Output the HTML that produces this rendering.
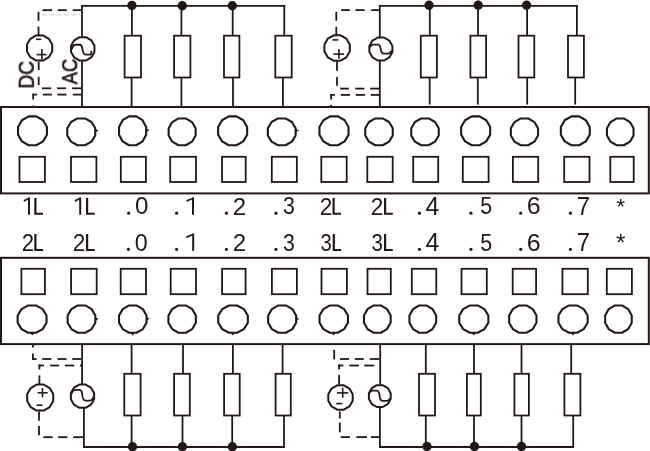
<!DOCTYPE html>
<html><head><meta charset="utf-8"><style>
html,body{margin:0;padding:0;background:#fff;}
svg{display:block}
text{filter:url(#gs)}
.c{shape-rendering:auto}
</style></head><body>
<svg width="650" height="451" viewBox="0 0 650 451">
<defs><filter id="gs" x="-10%" y="-10%" width="120%" height="120%"><feOffset dx="0" dy="0"/></filter></defs>
<rect x="0" y="0" width="650" height="451" fill="#fff"/>
<rect x="1.00" y="107.00" width="647.80" height="86.40" fill="none" stroke="#231815" stroke-width="2.0"/>
<rect x="1.00" y="257.80" width="647.80" height="86.30" fill="none" stroke="#231815" stroke-width="2.0"/>
<polygon class="c" points="46.95,134.67 43.08,141.38 36.37,145.25 28.63,145.25 21.92,141.38 18.05,134.67 18.05,126.93 21.92,120.22 28.63,116.35 36.37,116.35 43.08,120.22 46.95,126.93" fill="none" stroke="#231815" stroke-width="2.1" stroke-linejoin="round"/>
<polygon class="c" points="95.25,135.44 91.50,141.66 85.00,145.25 77.50,145.25 71.00,141.66 67.25,135.44 67.25,128.26 71.00,122.04 77.50,118.45 85.00,118.45 91.50,122.04 95.25,128.26" fill="none" stroke="#231815" stroke-width="2.1" stroke-linejoin="round"/>
<polygon class="c" points="146.15,134.67 142.52,141.38 136.23,145.25 128.97,145.25 122.68,141.38 119.05,134.67 119.05,126.93 122.68,120.22 128.97,116.35 136.23,116.35 142.52,120.22 146.15,126.93" fill="none" stroke="#231815" stroke-width="2.1" stroke-linejoin="round"/>
<polygon class="c" points="195.65,135.44 192.03,141.66 185.77,145.25 178.53,145.25 172.27,141.66 168.65,135.44 168.65,128.26 172.27,122.04 178.53,118.45 185.77,118.45 192.03,122.04 195.65,128.26" fill="none" stroke="#231815" stroke-width="2.1" stroke-linejoin="round"/>
<polygon class="c" points="247.15,134.67 243.26,141.38 236.54,145.25 228.76,145.25 222.04,141.38 218.15,134.67 218.15,126.93 222.04,120.22 228.76,116.35 236.54,116.35 243.26,120.22 247.15,126.93" fill="none" stroke="#231815" stroke-width="2.1" stroke-linejoin="round"/>
<polygon class="c" points="295.65,135.44 291.93,141.66 285.47,145.25 278.03,145.25 271.57,141.66 267.85,135.44 267.85,128.26 271.57,122.04 278.03,118.45 285.47,118.45 291.93,122.04 295.65,128.26" fill="none" stroke="#231815" stroke-width="2.1" stroke-linejoin="round"/>
<polygon class="c" points="348.55,134.67 344.65,141.38 337.90,145.25 330.10,145.25 323.35,141.38 319.45,134.67 319.45,126.93 323.35,120.22 330.10,116.35 337.90,116.35 344.65,120.22 348.55,126.93" fill="none" stroke="#231815" stroke-width="2.1" stroke-linejoin="round"/>
<polygon class="c" points="392.75,135.44 389.07,141.66 382.68,145.25 375.32,145.25 368.93,141.66 365.25,135.44 365.25,128.26 368.93,122.04 375.32,118.45 382.68,118.45 389.07,122.04 392.75,128.26" fill="none" stroke="#231815" stroke-width="2.1" stroke-linejoin="round"/>
<polygon class="c" points="438.75,135.44 435.07,141.66 428.68,145.25 421.32,145.25 414.93,141.66 411.25,135.44 411.25,128.26 414.93,122.04 421.32,118.45 428.68,118.45 435.07,122.04 438.75,128.26" fill="none" stroke="#231815" stroke-width="2.1" stroke-linejoin="round"/>
<polygon class="c" points="490.15,134.67 486.26,141.38 479.54,145.25 471.76,145.25 465.04,141.38 461.15,134.67 461.15,126.93 465.04,120.22 471.76,116.35 479.54,116.35 486.26,120.22 490.15,126.93" fill="none" stroke="#231815" stroke-width="2.1" stroke-linejoin="round"/>
<polygon class="c" points="538.05,135.44 534.41,141.66 528.09,145.25 520.81,145.25 514.49,141.66 510.85,135.44 510.85,128.26 514.49,122.04 520.81,118.45 528.09,118.45 534.41,122.04 538.05,128.26" fill="none" stroke="#231815" stroke-width="2.1" stroke-linejoin="round"/>
<polygon class="c" points="589.75,134.67 585.88,141.38 579.17,145.25 571.43,145.25 564.72,141.38 560.85,134.67 560.85,126.93 564.72,120.22 571.43,116.35 579.17,116.35 585.88,120.22 589.75,126.93" fill="none" stroke="#231815" stroke-width="2.1" stroke-linejoin="round"/>
<polygon class="c" points="633.55,135.44 629.99,141.66 623.81,145.25 616.69,145.25 610.51,141.66 606.95,135.44 606.95,128.26 610.51,122.04 616.69,118.45 623.81,118.45 629.99,122.04 633.55,128.26" fill="none" stroke="#231815" stroke-width="2.1" stroke-linejoin="round"/>
<path d="M95.50,129.30 L98.70,130.20 L95.50,132.60 Z" fill="#231815"/>
<path d="M146.40,128.90 L149.60,129.80 L146.40,132.20 Z" fill="#231815"/>
<path d="M295.90,129.30 L299.10,130.20 L295.90,132.60 Z" fill="#231815"/>
<rect x="19.50" y="156.80" width="25.40" height="25.20" fill="none" stroke="#231815" stroke-width="1.8"/>
<rect x="71.00" y="156.80" width="25.40" height="25.20" fill="none" stroke="#231815" stroke-width="1.8"/>
<rect x="120.80" y="156.80" width="25.10" height="25.20" fill="none" stroke="#231815" stroke-width="1.8"/>
<rect x="170.20" y="156.80" width="25.80" height="25.20" fill="none" stroke="#231815" stroke-width="1.8"/>
<rect x="222.00" y="156.80" width="23.70" height="25.20" fill="none" stroke="#231815" stroke-width="1.8"/>
<rect x="271.80" y="156.80" width="25.05" height="25.20" fill="none" stroke="#231815" stroke-width="1.8"/>
<rect x="321.30" y="156.80" width="25.40" height="25.20" fill="none" stroke="#231815" stroke-width="1.8"/>
<rect x="367.30" y="156.80" width="25.40" height="25.20" fill="none" stroke="#231815" stroke-width="1.8"/>
<rect x="413.20" y="156.80" width="25.00" height="25.20" fill="none" stroke="#231815" stroke-width="1.8"/>
<rect x="462.80" y="156.80" width="25.80" height="25.20" fill="none" stroke="#231815" stroke-width="1.8"/>
<rect x="512.90" y="156.80" width="25.30" height="25.20" fill="none" stroke="#231815" stroke-width="1.8"/>
<rect x="564.20" y="156.80" width="25.30" height="25.20" fill="none" stroke="#231815" stroke-width="1.8"/>
<rect x="610.30" y="156.80" width="23.40" height="25.20" fill="none" stroke="#231815" stroke-width="1.8"/>
<rect x="21.40" y="268.80" width="23.50" height="25.40" fill="none" stroke="#231815" stroke-width="1.8"/>
<rect x="71.10" y="268.80" width="25.60" height="25.40" fill="none" stroke="#231815" stroke-width="1.8"/>
<rect x="120.70" y="268.80" width="25.30" height="25.40" fill="none" stroke="#231815" stroke-width="1.8"/>
<rect x="170.70" y="268.80" width="25.30" height="25.40" fill="none" stroke="#231815" stroke-width="1.8"/>
<rect x="222.10" y="268.80" width="23.50" height="25.40" fill="none" stroke="#231815" stroke-width="1.8"/>
<rect x="271.90" y="268.80" width="25.00" height="25.40" fill="none" stroke="#231815" stroke-width="1.8"/>
<rect x="321.50" y="268.80" width="25.40" height="25.40" fill="none" stroke="#231815" stroke-width="1.8"/>
<rect x="367.50" y="268.80" width="23.30" height="25.40" fill="none" stroke="#231815" stroke-width="1.8"/>
<rect x="411.80" y="268.80" width="24.50" height="25.40" fill="none" stroke="#231815" stroke-width="1.8"/>
<rect x="461.50" y="268.80" width="25.30" height="25.40" fill="none" stroke="#231815" stroke-width="1.8"/>
<rect x="512.70" y="268.80" width="23.40" height="25.40" fill="none" stroke="#231815" stroke-width="1.8"/>
<rect x="562.40" y="268.80" width="25.40" height="25.40" fill="none" stroke="#231815" stroke-width="1.8"/>
<rect x="606.80" y="268.80" width="25.10" height="25.40" fill="none" stroke="#231815" stroke-width="1.8"/>
<polygon class="c" points="46.55,322.76 42.68,329.09 35.97,332.75 28.23,332.75 21.52,329.09 17.65,322.76 17.65,315.44 21.52,309.11 28.23,305.45 35.97,305.45 42.68,309.11 46.55,315.44" fill="none" stroke="#231815" stroke-width="2.1" stroke-linejoin="round"/>
<polygon class="c" points="95.35,322.76 91.64,329.09 85.21,332.75 77.79,332.75 71.36,329.09 67.65,322.76 67.65,315.44 71.36,309.11 77.79,305.45 85.21,305.45 91.64,309.11 95.35,315.44" fill="none" stroke="#231815" stroke-width="2.1" stroke-linejoin="round"/>
<polygon class="c" points="146.55,322.76 142.87,329.09 136.48,332.75 129.12,332.75 122.73,329.09 119.05,322.76 119.05,315.44 122.73,309.11 129.12,305.45 136.48,305.45 142.87,309.11 146.55,315.44" fill="none" stroke="#231815" stroke-width="2.1" stroke-linejoin="round"/>
<polygon class="c" points="195.85,322.76 192.18,329.09 185.82,332.75 178.48,332.75 172.12,329.09 168.45,322.76 168.45,315.44 172.12,309.11 178.48,305.45 185.82,305.45 192.18,309.11 195.85,315.44" fill="none" stroke="#231815" stroke-width="2.1" stroke-linejoin="round"/>
<polygon class="c" points="247.85,322.76 243.88,329.09 237.02,332.75 229.08,332.75 222.22,329.09 218.25,322.76 218.25,315.44 222.22,309.11 229.08,305.45 237.02,305.45 243.88,309.11 247.85,315.44" fill="none" stroke="#231815" stroke-width="2.1" stroke-linejoin="round"/>
<polygon class="c" points="296.15,322.76 292.40,329.09 285.90,332.75 278.40,332.75 271.90,329.09 268.15,322.76 268.15,315.44 271.90,309.11 278.40,305.45 285.90,305.45 292.40,309.11 296.15,315.44" fill="none" stroke="#231815" stroke-width="2.1" stroke-linejoin="round"/>
<polygon class="c" points="347.95,322.76 344.15,329.09 337.55,332.75 329.95,332.75 323.35,329.09 319.55,322.76 319.55,315.44 323.35,309.11 329.95,305.45 337.55,305.45 344.15,309.11 347.95,315.44" fill="none" stroke="#231815" stroke-width="2.1" stroke-linejoin="round"/>
<polygon class="c" points="390.65,322.76 387.07,329.09 380.88,332.75 373.72,332.75 367.53,329.09 363.95,322.76 363.95,315.44 367.53,309.11 373.72,305.45 380.88,305.45 387.07,309.11 390.65,315.44" fill="none" stroke="#231815" stroke-width="2.1" stroke-linejoin="round"/>
<polygon class="c" points="436.15,322.76 432.57,329.09 426.38,332.75 419.22,332.75 413.03,329.09 409.45,322.76 409.45,315.44 413.03,309.11 419.22,305.45 426.38,305.45 432.57,309.11 436.15,315.44" fill="none" stroke="#231815" stroke-width="2.1" stroke-linejoin="round"/>
<polygon class="c" points="488.35,322.76 484.45,329.09 477.70,332.75 469.90,332.75 463.15,329.09 459.25,322.76 459.25,315.44 463.15,309.11 469.90,305.45 477.70,305.45 484.45,309.11 488.35,315.44" fill="none" stroke="#231815" stroke-width="2.1" stroke-linejoin="round"/>
<polygon class="c" points="536.45,322.76 532.79,329.09 526.46,332.75 519.14,332.75 512.81,329.09 509.15,322.76 509.15,315.44 512.81,309.11 519.14,305.45 526.46,305.45 532.79,309.11 536.45,315.44" fill="none" stroke="#231815" stroke-width="2.1" stroke-linejoin="round"/>
<polygon class="c" points="587.65,322.76 583.74,329.09 576.96,332.75 569.14,332.75 562.36,329.09 558.45,322.76 558.45,315.44 562.36,309.11 569.14,305.45 576.96,305.45 583.74,309.11 587.65,315.44" fill="none" stroke="#231815" stroke-width="2.1" stroke-linejoin="round"/>
<polygon class="c" points="631.75,322.76 628.19,329.09 622.01,332.75 614.89,332.75 608.71,329.09 605.15,322.76 605.15,315.44 608.71,309.11 614.89,305.45 622.01,305.45 628.19,309.11 631.75,315.44" fill="none" stroke="#231815" stroke-width="2.1" stroke-linejoin="round"/>
<path d="M95.60,317.70 L98.60,318.80 L95.60,320.80 Z" fill="#231815"/>
<path d="M146.80,317.50 L149.80,318.60 L146.80,320.60 Z" fill="#231815"/>
<path d="M296.40,317.70 L299.40,318.80 L296.40,320.80 Z" fill="#231815"/>
<path d="M30.10,332.80 L32.30,335.60 L34.50,332.80 Z" fill="#231815"/>
<path d="M130.40,332.80 L132.60,335.60 L134.80,332.80 Z" fill="#231815"/>
<path d="M230.60,332.80 L232.80,335.60 L235.00,332.80 Z" fill="#231815"/>
<path d="M331.20,332.80 L333.40,335.60 L335.60,332.80 Z" fill="#231815"/>
<path d="M471.60,332.80 L473.80,335.60 L476.00,332.80 Z" fill="#231815"/>
<path d="M570.80,332.80 L573.00,335.60 L575.20,332.80 Z" fill="#231815"/>
<path d="M28.00,197.40 L30.00,197.40 L30.00,214.70 L28.00,214.70 Z" fill="#231815"/>
<path d="M29.00,197.40 L30.00,198.60 L23.95,202.00 L23.65,200.10 Z" fill="#231815"/>
<path d="M34.30,197.90 L36.50,197.90 L36.50,212.70 L43.00,212.70 L43.00,214.70 L34.30,214.70 Z" fill="#231815"/>
<path d="M79.20,197.40 L81.20,197.40 L81.20,214.70 L79.20,214.70 Z" fill="#231815"/>
<path d="M80.20,197.40 L81.20,198.60 L75.00,202.00 L74.70,200.10 Z" fill="#231815"/>
<path d="M86.00,197.90 L88.20,197.90 L88.20,212.70 L94.80,212.70 L94.80,214.70 L86.00,214.70 Z" fill="#231815"/>
<circle cx="128.70" cy="213.15" r="1.6" fill="#231815"/>
<text transform="matrix(0.24167,0,0,0.24366,135.033,214.456)" font-family="Liberation Sans" font-size="100" fill="#231815">0</text>
<circle cx="176.65" cy="213.15" r="1.6" fill="#231815"/>
<path d="M192.00,197.40 L194.00,197.40 L194.00,214.70 L192.00,214.70 Z" fill="#231815"/>
<path d="M193.00,197.40 L194.00,198.60 L186.70,202.00 L186.40,200.10 Z" fill="#231815"/>
<circle cx="226.45" cy="213.15" r="1.6" fill="#231815"/>
<text transform="matrix(0.24130,0,0,0.24714,232.793,214.700)" font-family="Liberation Sans" font-size="100" fill="#231815">2</text>
<circle cx="275.95" cy="213.15" r="1.6" fill="#231815"/>
<text transform="matrix(0.21277,0,0,0.24366,283.049,214.456)" font-family="Liberation Sans" font-size="100" fill="#231815">3</text>
<text transform="matrix(0.22609,0,0,0.24714,319.770,214.700)" font-family="Liberation Sans" font-size="100" fill="#231815">2</text>
<path d="M332.50,197.90 L334.70,197.90 L334.70,212.70 L341.00,212.70 L341.00,214.70 L332.50,214.70 Z" fill="#231815"/>
<text transform="matrix(0.22609,0,0,0.24714,370.770,214.700)" font-family="Liberation Sans" font-size="100" fill="#231815">2</text>
<path d="M384.00,197.90 L386.20,197.90 L386.20,212.70 L392.80,212.70 L392.80,214.70 L384.00,214.70 Z" fill="#231815"/>
<circle cx="419.45" cy="213.15" r="1.6" fill="#231815"/>
<text transform="matrix(0.24902,0,0,0.25441,425.502,214.954)" font-family="Liberation Sans" font-size="100" fill="#231815">4</text>
<circle cx="470.95" cy="213.15" r="1.6" fill="#231815"/>
<text transform="matrix(0.21489,0,0,0.24714,480.140,214.453)" font-family="Liberation Sans" font-size="100" fill="#231815">5</text>
<circle cx="520.75" cy="213.15" r="1.6" fill="#231815"/>
<text transform="matrix(0.25000,0,0,0.24366,526.750,214.456)" font-family="Liberation Sans" font-size="100" fill="#231815">6</text>
<circle cx="570.45" cy="213.15" r="1.6" fill="#231815"/>
<text transform="matrix(0.23913,0,0,0.25441,576.704,214.954)" font-family="Liberation Sans" font-size="100" fill="#231815">7</text>
<text transform="matrix(0.22174,0,0,0.24714,21.691,250.900)" font-family="Liberation Sans" font-size="100" fill="#231815">2</text>
<path d="M34.30,234.10 L36.50,234.10 L36.50,248.90 L43.10,248.90 L43.10,250.90 L34.30,250.90 Z" fill="#231815"/>
<text transform="matrix(0.22609,0,0,0.24714,72.770,250.900)" font-family="Liberation Sans" font-size="100" fill="#231815">2</text>
<path d="M86.00,234.10 L88.20,234.10 L88.20,248.90 L94.80,248.90 L94.80,250.90 L86.00,250.90 Z" fill="#231815"/>
<circle cx="128.45" cy="249.35" r="1.6" fill="#231815"/>
<text transform="matrix(0.23333,0,0,0.24366,134.767,250.656)" font-family="Liberation Sans" font-size="100" fill="#231815">0</text>
<circle cx="176.60" cy="249.35" r="1.6" fill="#231815"/>
<path d="M192.20,233.60 L194.20,233.60 L194.20,250.90 L192.20,250.90 Z" fill="#231815"/>
<path d="M193.20,233.60 L194.20,234.80 L186.50,238.20 L186.20,236.30 Z" fill="#231815"/>
<circle cx="226.45" cy="249.35" r="1.6" fill="#231815"/>
<text transform="matrix(0.24130,0,0,0.24714,232.793,250.900)" font-family="Liberation Sans" font-size="100" fill="#231815">2</text>
<circle cx="275.95" cy="249.35" r="1.6" fill="#231815"/>
<text transform="matrix(0.21277,0,0,0.24366,283.049,250.656)" font-family="Liberation Sans" font-size="100" fill="#231815">3</text>
<text transform="matrix(0.20213,0,0,0.24366,320.391,250.656)" font-family="Liberation Sans" font-size="100" fill="#231815">3</text>
<path d="M332.70,234.10 L334.90,234.10 L334.90,248.90 L341.10,248.90 L341.10,250.90 L332.70,250.90 Z" fill="#231815"/>
<text transform="matrix(0.20426,0,0,0.24366,371.383,250.656)" font-family="Liberation Sans" font-size="100" fill="#231815">3</text>
<path d="M384.00,234.10 L386.20,234.10 L386.20,248.90 L392.80,248.90 L392.80,250.90 L384.00,250.90 Z" fill="#231815"/>
<circle cx="419.45" cy="249.35" r="1.6" fill="#231815"/>
<text transform="matrix(0.24902,0,0,0.25441,425.502,251.154)" font-family="Liberation Sans" font-size="100" fill="#231815">4</text>
<circle cx="470.95" cy="249.35" r="1.6" fill="#231815"/>
<text transform="matrix(0.21489,0,0,0.24714,480.140,250.653)" font-family="Liberation Sans" font-size="100" fill="#231815">5</text>
<circle cx="520.75" cy="249.35" r="1.6" fill="#231815"/>
<text transform="matrix(0.25000,0,0,0.24366,526.750,250.656)" font-family="Liberation Sans" font-size="100" fill="#231815">6</text>
<circle cx="570.45" cy="249.35" r="1.6" fill="#231815"/>
<text transform="matrix(0.23913,0,0,0.25441,576.704,251.154)" font-family="Liberation Sans" font-size="100" fill="#231815">7</text>
<text transform="matrix(0.22857,0,0,0.22857,616.143,213.771)" font-family="Liberation Sans" font-size="100" fill="#231815">*</text>
<text transform="matrix(0.24286,0,0,0.23429,616.014,251.166)" font-family="Liberation Sans" font-size="100" fill="#231815">*</text>
<text transform="matrix(0,-0.19091,0.22676,0,33.773,88.527)" font-family="Liberation Sans" font-size="100" fill="#231815" stroke="#231815" stroke-width="3.2">DC</text>
<text transform="matrix(0,-0.18296,0.21972,0,77.180,84.300)" font-family="Liberation Sans" font-size="100" fill="#231815" stroke="#231815" stroke-width="3.2">AC</text>
<line x1="81.10" y1="5.85" x2="285.20" y2="5.85" stroke="#231815" stroke-width="1.8"/>
<line x1="82.00" y1="5.00" x2="82.00" y2="36.65" stroke="#231815" stroke-width="1.8"/>
<line x1="82.00" y1="61.05" x2="82.00" y2="107.00" stroke="#231815" stroke-width="1.8"/>
<polygon class="c" points="94.45,51.99 91.31,57.41 85.89,60.55 79.61,60.55 74.19,57.41 71.05,51.99 71.05,45.71 74.19,40.29 79.61,37.15 85.89,37.15 91.31,40.29 94.45,45.71" fill="none" stroke="#231815" stroke-width="2.0" stroke-linejoin="round"/>
<path d="M71.85,49.35 C72.45,46.25 73.75,44.75 75.75,44.75 L79.75,44.75 C81.95,44.75 82.15,46.75 82.55,49.70 C82.95,52.65 83.35,54.65 85.75,54.65 L89.75,54.65 C91.75,54.65 91.15,53.15 91.55,50.75" fill="none" stroke="#231815" stroke-width="1.8"/>
<line x1="131.90" y1="5.85" x2="131.90" y2="35.50" stroke="#231815" stroke-width="1.8"/>
<line x1="131.60" y1="77.50" x2="131.60" y2="107.00" stroke="#231815" stroke-width="1.8"/>
<rect x="124.60" y="35.70" width="16.40" height="41.80" fill="none" stroke="#231815" stroke-width="1.8"/>
<line x1="181.40" y1="5.85" x2="181.40" y2="35.50" stroke="#231815" stroke-width="1.8"/>
<line x1="181.40" y1="77.50" x2="181.40" y2="107.00" stroke="#231815" stroke-width="1.8"/>
<rect x="174.10" y="35.70" width="16.30" height="41.80" fill="none" stroke="#231815" stroke-width="1.8"/>
<line x1="232.70" y1="5.85" x2="232.70" y2="35.50" stroke="#231815" stroke-width="1.8"/>
<line x1="233.00" y1="77.50" x2="233.00" y2="107.00" stroke="#231815" stroke-width="1.8"/>
<rect x="224.00" y="35.70" width="15.40" height="41.80" fill="none" stroke="#231815" stroke-width="1.8"/>
<line x1="284.30" y1="5.85" x2="284.30" y2="35.50" stroke="#231815" stroke-width="1.8"/>
<line x1="282.90" y1="77.50" x2="282.90" y2="107.00" stroke="#231815" stroke-width="1.8"/>
<rect x="275.30" y="35.70" width="16.40" height="41.80" fill="none" stroke="#231815" stroke-width="1.8"/>
<circle class="c" cx="131.90" cy="5.50" r="4.70" fill="#231815"/>
<circle class="c" cx="182.30" cy="5.80" r="4.70" fill="#231815"/>
<circle class="c" cx="232.30" cy="5.80" r="4.70" fill="#231815"/>
<polygon class="c" points="52.20,51.38 48.82,57.22 42.98,60.60 36.22,60.60 30.38,57.22 27.00,51.38 27.00,44.62 30.38,38.78 36.22,35.40 42.98,35.40 48.82,38.78 52.20,44.62" fill="none" stroke="#231815" stroke-width="2.0" stroke-linejoin="round"/>
<line x1="42.50" y1="10.15" x2="52.00" y2="10.15" stroke="#231815" stroke-width="1.8"/>
<line x1="57.70" y1="10.15" x2="66.90" y2="10.15" stroke="#231815" stroke-width="1.8"/>
<line x1="72.70" y1="10.15" x2="81.20" y2="10.15" stroke="#231815" stroke-width="1.8"/>
<line x1="38.50" y1="11.80" x2="38.50" y2="20.80" stroke="#231815" stroke-width="1.8"/>
<line x1="38.50" y1="26.50" x2="38.50" y2="35.00" stroke="#231815" stroke-width="1.8"/>
<line x1="41.50" y1="14.80" x2="47.00" y2="14.80" stroke="#e3e3e3" stroke-width="1.8"/>
<line x1="48.90" y1="14.80" x2="54.50" y2="14.80" stroke="#e3e3e3" stroke-width="1.8"/>
<line x1="56.30" y1="14.80" x2="61.90" y2="14.80" stroke="#e3e3e3" stroke-width="1.8"/>
<line x1="63.70" y1="14.80" x2="69.20" y2="14.80" stroke="#e3e3e3" stroke-width="1.8"/>
<line x1="71.10" y1="14.80" x2="76.60" y2="14.80" stroke="#e3e3e3" stroke-width="1.8"/>
<line x1="78.50" y1="14.80" x2="80.30" y2="14.80" stroke="#e3e3e3" stroke-width="1.8"/>
<line x1="38.70" y1="61.80" x2="38.70" y2="70.00" stroke="#231815" stroke-width="1.8"/>
<line x1="38.70" y1="76.80" x2="38.70" y2="85.00" stroke="#231815" stroke-width="1.8"/>
<line x1="42.00" y1="88.30" x2="51.20" y2="88.30" stroke="#231815" stroke-width="1.8"/>
<line x1="57.00" y1="88.30" x2="66.00" y2="88.30" stroke="#231815" stroke-width="1.8"/>
<line x1="72.00" y1="88.30" x2="81.20" y2="88.30" stroke="#231815" stroke-width="1.8"/>
<line x1="32.50" y1="94.60" x2="37.00" y2="94.60" stroke="#231815" stroke-width="1.8"/>
<line x1="42.80" y1="94.60" x2="51.80" y2="94.60" stroke="#231815" stroke-width="1.8"/>
<line x1="57.50" y1="94.60" x2="66.50" y2="94.60" stroke="#231815" stroke-width="1.8"/>
<line x1="72.80" y1="94.60" x2="81.20" y2="94.60" stroke="#231815" stroke-width="1.8"/>
<line x1="33.20" y1="93.80" x2="33.20" y2="99.50" stroke="#231815" stroke-width="1.8"/>
<line x1="33.20" y1="105.50" x2="33.20" y2="107.00" stroke="#231815" stroke-width="1.8"/>
<line x1="378.90" y1="5.85" x2="577.80" y2="5.85" stroke="#231815" stroke-width="1.8"/>
<line x1="379.80" y1="5.00" x2="379.80" y2="37.00" stroke="#231815" stroke-width="1.8"/>
<line x1="379.80" y1="61.00" x2="379.80" y2="107.00" stroke="#231815" stroke-width="1.8"/>
<polygon class="c" points="392.40,52.08 389.32,57.42 383.98,60.50 377.82,60.50 372.48,57.42 369.40,52.08 369.40,45.92 372.48,40.58 377.82,37.50 383.98,37.50 389.32,40.58 392.40,45.92" fill="none" stroke="#231815" stroke-width="2.0" stroke-linejoin="round"/>
<path d="M369.70,47.50 C370.30,46.10 371.90,44.60 373.90,44.60 L377.90,44.60 C380.10,44.60 380.30,46.60 380.70,49.10 C381.10,51.60 381.50,53.60 383.90,53.60 L387.90,53.60 C389.90,53.60 391.10,52.10 391.50,50.50" fill="none" stroke="#231815" stroke-width="1.8"/>
<line x1="429.80" y1="5.85" x2="429.80" y2="35.50" stroke="#231815" stroke-width="1.8"/>
<line x1="429.70" y1="77.50" x2="429.70" y2="104.60" stroke="#231815" stroke-width="1.8"/>
<rect x="420.80" y="35.70" width="16.10" height="41.80" fill="none" stroke="#231815" stroke-width="1.8"/>
<line x1="478.00" y1="5.85" x2="478.00" y2="35.50" stroke="#231815" stroke-width="1.8"/>
<line x1="477.80" y1="77.50" x2="477.80" y2="104.60" stroke="#231815" stroke-width="1.8"/>
<rect x="470.40" y="35.70" width="15.70" height="41.80" fill="none" stroke="#231815" stroke-width="1.8"/>
<line x1="527.10" y1="5.85" x2="527.10" y2="35.50" stroke="#231815" stroke-width="1.8"/>
<line x1="527.20" y1="77.50" x2="527.20" y2="104.60" stroke="#231815" stroke-width="1.8"/>
<rect x="518.50" y="35.70" width="15.80" height="41.80" fill="none" stroke="#231815" stroke-width="1.8"/>
<line x1="576.90" y1="5.85" x2="576.90" y2="35.50" stroke="#231815" stroke-width="1.8"/>
<line x1="575.20" y1="77.50" x2="575.20" y2="104.60" stroke="#231815" stroke-width="1.8"/>
<rect x="568.00" y="35.70" width="15.90" height="41.80" fill="none" stroke="#231815" stroke-width="1.8"/>
<circle class="c" cx="429.00" cy="5.20" r="4.70" fill="#231815"/>
<circle class="c" cx="478.20" cy="5.20" r="4.70" fill="#231815"/>
<circle class="c" cx="526.60" cy="5.20" r="4.70" fill="#231815"/>
<polygon class="c" points="349.80,51.40 346.40,57.30 340.50,60.70 333.70,60.70 327.80,57.30 324.40,51.40 324.40,44.60 327.80,38.70 333.70,35.30 340.50,35.30 346.40,38.70 349.80,44.60" fill="none" stroke="#231815" stroke-width="2.0" stroke-linejoin="round"/>
<line x1="341.20" y1="10.10" x2="349.70" y2="10.10" stroke="#231815" stroke-width="1.8"/>
<line x1="355.50" y1="10.10" x2="364.70" y2="10.10" stroke="#231815" stroke-width="1.8"/>
<line x1="371.20" y1="10.10" x2="379.70" y2="10.10" stroke="#231815" stroke-width="1.8"/>
<line x1="336.30" y1="11.80" x2="336.30" y2="20.90" stroke="#231815" stroke-width="1.8"/>
<line x1="336.30" y1="26.80" x2="336.30" y2="35.30" stroke="#231815" stroke-width="1.8"/>
<line x1="337.00" y1="61.50" x2="337.00" y2="70.70" stroke="#231815" stroke-width="1.8"/>
<line x1="337.00" y1="77.00" x2="337.00" y2="85.70" stroke="#231815" stroke-width="1.8"/>
<line x1="340.20" y1="88.60" x2="348.80" y2="88.60" stroke="#231815" stroke-width="1.8"/>
<line x1="355.20" y1="88.60" x2="364.40" y2="88.60" stroke="#231815" stroke-width="1.8"/>
<line x1="370.20" y1="88.60" x2="379.40" y2="88.60" stroke="#231815" stroke-width="1.8"/>
<line x1="330.40" y1="94.90" x2="335.00" y2="94.90" stroke="#231815" stroke-width="1.8"/>
<line x1="340.80" y1="94.90" x2="350.00" y2="94.90" stroke="#231815" stroke-width="1.8"/>
<line x1="355.80" y1="94.90" x2="365.00" y2="94.90" stroke="#231815" stroke-width="1.8"/>
<line x1="370.70" y1="94.90" x2="379.40" y2="94.90" stroke="#231815" stroke-width="1.8"/>
<line x1="331.10" y1="94.00" x2="331.10" y2="99.50" stroke="#231815" stroke-width="1.8"/>
<line x1="331.10" y1="104.70" x2="331.10" y2="107.00" stroke="#231815" stroke-width="1.8"/>
<line x1="36.00" y1="39.30" x2="41.20" y2="39.30" stroke="#231815" stroke-width="1.6"/>
<line x1="36.60" y1="54.60" x2="46.50" y2="54.60" stroke="#231815" stroke-width="1.6"/>
<line x1="41.90" y1="49.00" x2="41.90" y2="59.50" stroke="#231815" stroke-width="1.6"/>
<line x1="332.50" y1="39.90" x2="338.30" y2="39.90" stroke="#231815" stroke-width="1.6"/>
<line x1="333.40" y1="54.10" x2="344.10" y2="54.10" stroke="#231815" stroke-width="1.6"/>
<line x1="338.90" y1="48.90" x2="338.90" y2="58.80" stroke="#231815" stroke-width="1.6"/>
<line x1="82.10" y1="344.00" x2="82.10" y2="384.10" stroke="#231815" stroke-width="1.8"/>
<line x1="83.90" y1="408.30" x2="83.90" y2="447.90" stroke="#231815" stroke-width="1.8"/>
<line x1="83.00" y1="447.00" x2="284.90" y2="447.00" stroke="#231815" stroke-width="1.8"/>
<polygon class="c" points="94.10,399.31 90.99,404.69 85.61,407.80 79.39,407.80 74.01,404.69 70.90,399.31 70.90,393.09 74.01,387.71 79.39,384.60 85.61,384.60 90.99,387.71 94.10,393.09" fill="none" stroke="#231815" stroke-width="2.0" stroke-linejoin="round"/>
<path d="M71.40,394.20 C72.00,391.40 73.50,389.90 75.50,389.90 L79.50,389.90 C81.70,389.90 81.90,391.90 82.30,395.25 C82.70,398.60 83.10,400.60 85.50,400.60 L89.50,400.60 C91.50,400.60 93.00,399.10 93.40,396.60" fill="none" stroke="#231815" stroke-width="1.8"/>
<line x1="131.60" y1="344.00" x2="131.60" y2="373.60" stroke="#231815" stroke-width="1.8"/>
<line x1="131.60" y1="415.50" x2="131.60" y2="447.00" stroke="#231815" stroke-width="1.8"/>
<rect x="124.30" y="373.80" width="16.30" height="41.70" fill="none" stroke="#231815" stroke-width="1.8"/>
<line x1="183.00" y1="344.00" x2="183.00" y2="373.60" stroke="#231815" stroke-width="1.8"/>
<line x1="182.50" y1="415.50" x2="182.50" y2="447.00" stroke="#231815" stroke-width="1.8"/>
<rect x="174.10" y="373.80" width="15.70" height="41.70" fill="none" stroke="#231815" stroke-width="1.8"/>
<line x1="232.90" y1="344.00" x2="232.90" y2="373.60" stroke="#231815" stroke-width="1.8"/>
<line x1="232.20" y1="415.50" x2="232.20" y2="447.00" stroke="#231815" stroke-width="1.8"/>
<rect x="224.10" y="373.80" width="15.60" height="41.70" fill="none" stroke="#231815" stroke-width="1.8"/>
<line x1="282.60" y1="344.00" x2="282.60" y2="373.60" stroke="#231815" stroke-width="1.8"/>
<line x1="284.00" y1="415.50" x2="284.00" y2="447.00" stroke="#231815" stroke-width="1.8"/>
<rect x="275.60" y="373.80" width="15.20" height="41.70" fill="none" stroke="#231815" stroke-width="1.8"/>
<circle class="c" cx="132.50" cy="446.70" r="4.70" fill="#231815"/>
<circle class="c" cx="182.40" cy="446.70" r="4.70" fill="#231815"/>
<circle class="c" cx="232.30" cy="446.70" r="4.70" fill="#231815"/>
<polygon class="c" points="53.20,401.08 49.72,407.12 43.68,410.60 36.72,410.60 30.68,407.12 27.20,401.08 27.20,394.12 30.68,388.08 36.72,384.60 43.68,384.60 49.72,388.08 53.20,394.12" fill="none" stroke="#231815" stroke-width="2.0" stroke-linejoin="round"/>
<line x1="32.90" y1="344.00" x2="32.90" y2="347.40" stroke="#231815" stroke-width="1.8"/>
<line x1="32.90" y1="353.50" x2="32.90" y2="359.40" stroke="#231815" stroke-width="1.8"/>
<line x1="32.00" y1="359.00" x2="36.60" y2="359.00" stroke="#231815" stroke-width="1.8"/>
<line x1="42.20" y1="359.00" x2="51.40" y2="359.00" stroke="#231815" stroke-width="1.8"/>
<line x1="57.50" y1="359.00" x2="66.50" y2="359.00" stroke="#231815" stroke-width="1.8"/>
<line x1="72.30" y1="359.00" x2="81.20" y2="359.00" stroke="#231815" stroke-width="1.8"/>
<line x1="38.50" y1="365.50" x2="44.00" y2="365.50" stroke="#231815" stroke-width="1.8"/>
<line x1="50.20" y1="365.50" x2="59.10" y2="365.50" stroke="#231815" stroke-width="1.8"/>
<line x1="64.90" y1="365.50" x2="74.20" y2="365.50" stroke="#231815" stroke-width="1.8"/>
<line x1="80.00" y1="365.50" x2="81.50" y2="365.50" stroke="#231815" stroke-width="1.8"/>
<line x1="39.40" y1="364.60" x2="39.40" y2="369.50" stroke="#231815" stroke-width="1.8"/>
<line x1="39.40" y1="375.40" x2="39.40" y2="384.20" stroke="#231815" stroke-width="1.8"/>
<line x1="39.00" y1="411.50" x2="39.00" y2="420.80" stroke="#231815" stroke-width="1.8"/>
<line x1="39.00" y1="425.90" x2="39.00" y2="435.20" stroke="#231815" stroke-width="1.8"/>
<line x1="43.40" y1="437.20" x2="52.60" y2="437.20" stroke="#231815" stroke-width="1.8"/>
<line x1="58.20" y1="437.20" x2="67.40" y2="437.20" stroke="#231815" stroke-width="1.8"/>
<line x1="73.20" y1="437.20" x2="83.00" y2="437.20" stroke="#231815" stroke-width="1.8"/>
<line x1="380.20" y1="344.00" x2="380.20" y2="384.70" stroke="#231815" stroke-width="1.8"/>
<line x1="379.90" y1="407.50" x2="379.90" y2="447.90" stroke="#231815" stroke-width="1.8"/>
<line x1="379.00" y1="447.00" x2="574.10" y2="447.00" stroke="#231815" stroke-width="1.8"/>
<polygon class="c" points="390.70,399.02 387.78,404.08 382.72,407.00 376.88,407.00 371.82,404.08 368.90,399.02 368.90,393.18 371.82,388.12 376.88,385.20 382.72,385.20 387.78,388.12 390.70,393.18" fill="none" stroke="#231815" stroke-width="2.0" stroke-linejoin="round"/>
<path d="M368.90,394.90 C369.50,392.20 370.80,390.70 372.80,390.70 L376.80,390.70 C379.00,390.70 379.20,392.70 379.60,395.80 C380.00,398.90 380.40,400.90 382.80,400.90 L386.80,400.90 C388.80,400.90 389.50,399.40 389.90,398.20" fill="none" stroke="#231815" stroke-width="1.8"/>
<line x1="425.80" y1="344.00" x2="425.80" y2="373.60" stroke="#231815" stroke-width="1.8"/>
<line x1="425.80" y1="415.50" x2="425.80" y2="447.00" stroke="#231815" stroke-width="1.8"/>
<rect x="419.00" y="373.80" width="16.00" height="41.70" fill="none" stroke="#231815" stroke-width="1.8"/>
<line x1="474.00" y1="344.00" x2="474.00" y2="373.60" stroke="#231815" stroke-width="1.8"/>
<line x1="474.00" y1="415.50" x2="474.00" y2="447.00" stroke="#231815" stroke-width="1.8"/>
<rect x="466.90" y="373.80" width="13.90" height="41.70" fill="none" stroke="#231815" stroke-width="1.8"/>
<line x1="521.50" y1="344.00" x2="521.50" y2="373.60" stroke="#231815" stroke-width="1.8"/>
<line x1="521.50" y1="415.50" x2="521.50" y2="447.00" stroke="#231815" stroke-width="1.8"/>
<rect x="514.40" y="373.80" width="14.50" height="41.70" fill="none" stroke="#231815" stroke-width="1.8"/>
<line x1="571.20" y1="344.00" x2="571.20" y2="373.60" stroke="#231815" stroke-width="1.8"/>
<line x1="573.20" y1="415.50" x2="573.20" y2="447.00" stroke="#231815" stroke-width="1.8"/>
<rect x="564.40" y="373.80" width="16.00" height="41.70" fill="none" stroke="#231815" stroke-width="1.8"/>
<circle class="c" cx="427.00" cy="446.50" r="4.70" fill="#231815"/>
<circle class="c" cx="474.40" cy="446.50" r="4.70" fill="#231815"/>
<circle class="c" cx="521.50" cy="446.50" r="4.70" fill="#231815"/>
<polygon class="c" points="352.70,400.77 349.43,406.43 343.77,409.70 337.23,409.70 331.57,406.43 328.30,400.77 328.30,394.23 331.57,388.57 337.23,385.30 343.77,385.30 349.43,388.57 352.70,394.23" fill="none" stroke="#231815" stroke-width="2.0" stroke-linejoin="round"/>
<line x1="334.20" y1="349.80" x2="334.20" y2="359.40" stroke="#231815" stroke-width="1.8"/>
<line x1="340.00" y1="359.00" x2="349.00" y2="359.00" stroke="#231815" stroke-width="1.8"/>
<line x1="354.80" y1="359.00" x2="363.70" y2="359.00" stroke="#231815" stroke-width="1.8"/>
<line x1="369.80" y1="359.00" x2="379.30" y2="359.00" stroke="#231815" stroke-width="1.8"/>
<line x1="338.20" y1="365.50" x2="343.40" y2="365.50" stroke="#231815" stroke-width="1.8"/>
<line x1="349.30" y1="365.50" x2="358.80" y2="365.50" stroke="#231815" stroke-width="1.8"/>
<line x1="364.30" y1="365.50" x2="374.20" y2="365.50" stroke="#231815" stroke-width="1.8"/>
<line x1="339.10" y1="364.60" x2="339.10" y2="369.50" stroke="#231815" stroke-width="1.8"/>
<line x1="339.10" y1="375.00" x2="339.10" y2="384.20" stroke="#231815" stroke-width="1.8"/>
<line x1="339.80" y1="411.50" x2="339.80" y2="418.50" stroke="#231815" stroke-width="1.8"/>
<line x1="339.80" y1="422.50" x2="339.80" y2="432.30" stroke="#231815" stroke-width="1.8"/>
<line x1="340.70" y1="437.10" x2="350.00" y2="437.10" stroke="#231815" stroke-width="1.8"/>
<line x1="356.40" y1="437.10" x2="367.00" y2="437.10" stroke="#231815" stroke-width="1.8"/>
<line x1="371.00" y1="437.10" x2="379.90" y2="437.10" stroke="#231815" stroke-width="1.8"/>
<line x1="37.60" y1="392.80" x2="47.70" y2="392.80" stroke="#231815" stroke-width="1.6"/>
<line x1="42.50" y1="387.90" x2="42.50" y2="397.40" stroke="#231815" stroke-width="1.6"/>
<line x1="36.60" y1="405.20" x2="42.50" y2="405.20" stroke="#231815" stroke-width="1.6"/>
<line x1="337.00" y1="392.90" x2="348.30" y2="392.90" stroke="#231815" stroke-width="1.6"/>
<line x1="342.70" y1="387.70" x2="342.70" y2="397.80" stroke="#231815" stroke-width="1.6"/>
<line x1="336.20" y1="403.60" x2="342.30" y2="403.60" stroke="#231815" stroke-width="1.6"/>
</svg>
</body></html>
